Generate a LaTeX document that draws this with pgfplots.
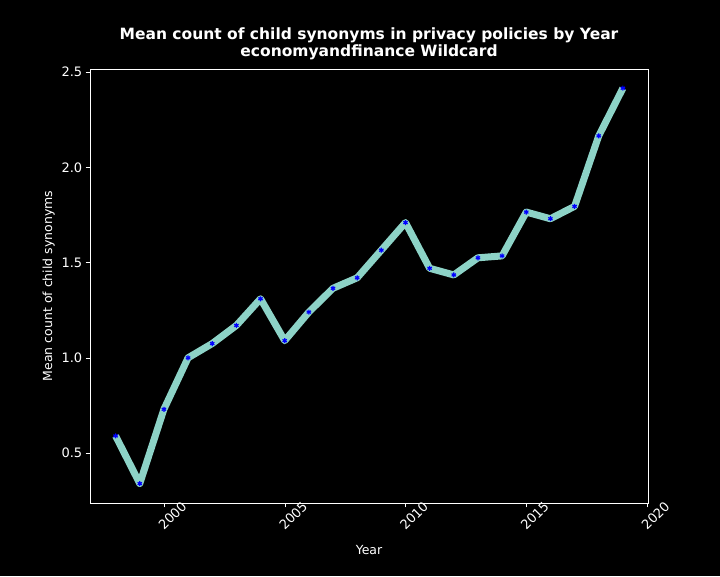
\documentclass[border=0pt]{standalone}
\usepackage{pgfplots}
\pgfplotsset{compat=1.18}
\usepackage{fontspec}
\setmainfont{DejaVu Sans}
\begin{document}
\begin{tikzpicture}
\fill[black] (0,0) rectangle (720pt,576pt);
\useasboundingbox (0,0) rectangle (720pt,576pt);
\begin{axis}[at={(90pt,73pt)}, anchor=south west, scale only axis,
width=558pt, height=434pt,
xmin=1996.94, xmax=2020.04, ymin=0.238, ymax=2.516,
axis line style={white}, tick style={white}, tick align=outside,
xtick pos=bottom, ytick pos=left,
xtick={2000,2005,...,2020}, ytick={0.5,1.0,1.5,2.0,2.5},
x tick label style={rotate=45, anchor=center, yshift=-12pt, font=\fontsize{13}{15}\selectfont, text=white},
y tick label style={font=\fontsize{13}{15}\selectfont, text=white, /pgf/number format/.cd, fixed, fixed zerofill, precision=1},
/pgf/number format/assume math mode=true,
/pgf/number format/1000 sep={},
xlabel={Year}, ylabel={Mean count of child synonyms},
xlabel style={yshift=-6pt},
label style={font=\fontsize{12.5}{15}\selectfont, text=white},
title={\textbf{Mean count of child synonyms in privacy policies by Year}\\\textbf{economyandfinance Wildcard}},
title style={font=\fontsize{15.5}{17}\selectfont, text=white, align=center},
]
\addplot[color={rgb,255:red,141;green,211;blue,199}, line width=7pt, line join=round,
mark=asterisk, mark size=2.5pt, mark options={blue, line width=1.2pt}] coordinates {
(1998,0.59)(1999,0.34)(2000,0.73)(2001,1.00)(2002,1.075)(2003,1.17)(2004,1.31)(2005,1.09)(2006,1.24)(2007,1.365)(2008,1.42)(2009,1.565)(2010,1.71)(2011,1.47)(2012,1.435)(2013,1.525)(2014,1.535)(2015,1.765)(2016,1.73)(2017,1.795)(2018,2.165)(2019,2.415)};
\end{axis}
\end{tikzpicture}
\end{document}
